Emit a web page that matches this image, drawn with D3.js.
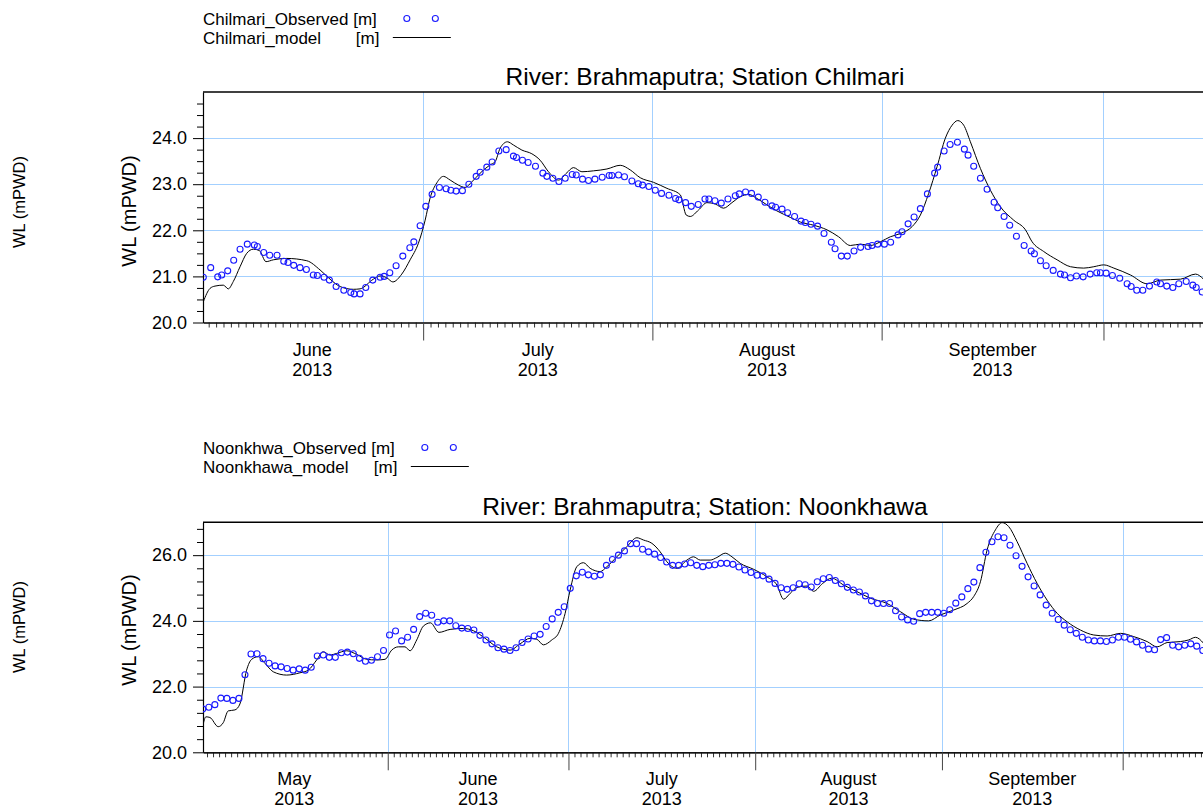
<!DOCTYPE html>
<html>
<head>
<meta charset="utf-8">
<script src="https://cdn.jsdelivr.net/npm/d3@7"></script>
<style>
  body { margin: 0; background: #fff; }
  svg { display: block; }
  text { font-family: "Liberation Sans", Arial, Helvetica, sans-serif; fill: #000; }
</style>
</head>
<body>
<svg id="chart" width="1203" height="809"></svg>
<script>
// ---------------- Chilmari: days since 2013-06-01 00:00 UTC ----------------
const chilObsDay = [0.27,1.27,2.22,2.76,3.57,4.38,5.24,6.22,7.17,7.58,8.44,9.25,10.24,11.15,11.73,12.50,13.35,14.21,15.15,15.69,
  16.60,17.32,18.23,19.27,20.21,20.66,21.47,22.24,23.19,24.18,24.72,25.49,26.34,27.25,28.20,28.74,29.59,30.36,31.21,32.20,
  33.11,33.74,34.46,35.31,36.18,37.17,37.71,38.61,39.33,40.24,41.23,42.21,42.62,43.43,44.20,45.19,46.19,46.73,47.54,48.36,
  49.21,50.16,50.70,51.55,52.36,53.23,54.21,55.16,55.53,56.42,57.23,58.23,59.09,59.67,60.53,61.39,62.24,63.24,64.13,64.59,
  65.49,66.26,67.20,68.11,68.65,69.46,70.32,71.22,72.21,72.75,73.60,74.41,75.32,76.23,77.17,77.66,78.53,79.29,80.23,81.10,
  81.68,82.45,83.34,84.21,85.20,85.70,86.55,87.36,88.27,89.16,90.16,90.70,91.46,92.37,93.22,94.22,94.76,95.58,96.39,97.24,
  98.19,99.17,99.58,100.45,101.26,102.25,103.19,103.69,104.45,105.36,106.26,107.21,107.70,108.56,109.32,110.23,111.27,112.22,112.66,113.48,
  114.25,115.20,116.18,116.73,117.54,118.35,119.25,120.20,121.09,121.59,122.36,123.21,124.20,125.20,125.74,126.50,127.32,128.22,129.21,129.71,
  130.56,131.38,132.19,133.19,134.08,134.54,135.35];
const chilObsWL = [20.98,21.19,20.99,21.03,21.12,21.35,21.59,21.70,21.68,21.65,21.52,21.46,21.46,21.33,21.30,21.24,21.19,21.15,21.03,21.02,
  20.98,20.92,20.78,20.70,20.65,20.62,20.62,20.76,20.92,20.98,21.00,21.08,21.23,21.44,21.62,21.75,22.10,22.52,22.78,22.93,
  22.90,22.87,22.85,22.86,23.00,23.17,23.26,23.37,23.48,23.72,23.75,23.61,23.58,23.52,23.47,23.39,23.24,23.17,23.13,23.06,
  23.13,23.21,23.20,23.11,23.08,23.11,23.15,23.19,23.19,23.20,23.16,23.07,23.01,22.98,22.95,22.87,22.80,22.76,22.69,22.66,
  22.60,22.52,22.56,22.68,22.68,22.64,22.59,22.68,22.75,22.79,22.83,22.80,22.72,22.61,22.53,22.50,22.46,22.38,22.30,22.20,
  22.17,22.13,22.09,21.93,21.74,21.60,21.44,21.44,21.55,21.63,21.65,21.67,21.70,21.70,21.74,21.90,21.97,22.14,22.29,22.47,
  22.79,23.24,23.37,23.72,23.86,23.91,23.76,23.63,23.39,23.13,22.89,22.61,22.49,22.30,22.11,21.87,21.67,21.55,21.49,21.34,
  21.23,21.13,21.05,21.03,20.97,21.01,20.99,21.05,21.08,21.08,21.07,21.02,20.96,20.84,20.78,20.70,20.70,20.79,20.88,20.84,
  20.79,20.76,20.84,20.89,20.81,20.76,20.66];
const chilModDay = [0.27,1.18,1.85,2.98,3.65,4.33,5.24,6.14,7.04,7.85,8.75,9.74,11.55,14.26,16.06,17.41,18.77,20.57,21.47,23.27,
  24.18,25.08,25.90,27.11,28.24,29.36,30.27,30.94,31.85,32.74,33.65,34.77,35.68,36.58,37.71,39.06,39.74,40.41,41.40,42.21,
  43.35,44.70,45.82,46.95,48.30,49.44,50.33,51.47,53.04,54.85,56.65,58.00,59.36,61.16,62.97,64.77,65.58,66.12,67.24,68.38,
  69.50,70.63,71.76,72.89,74.01,75.15,76.50,77.85,79.65,81.00,82.80,84.61,86.18,87.77,89.12,90.48,91.83,93.18,94.54,96.12,
  97.24,98.36,99.50,100.62,101.53,102.29,103.10,104.00,105.36,106.71,108.06,109.86,111.45,112.35,113.92,115.73,117.54,119.33,120.69,122.04,
  123.40,125.66,127.91,129.71,132.42,134.45,135.53];
const chilModWL = [20.45,20.74,20.79,20.81,20.73,20.89,21.21,21.50,21.59,21.56,21.32,21.36,21.39,21.34,21.14,20.94,20.78,20.72,20.73,20.94,
  21.01,20.97,20.88,21.05,21.36,21.72,22.22,22.70,23.03,23.17,23.09,22.98,22.93,23.05,23.24,23.42,23.49,23.78,23.92,23.85,
  23.74,23.66,23.52,23.27,23.09,23.25,23.36,23.27,23.29,23.33,23.41,23.31,23.14,23.04,22.91,22.77,22.33,22.30,22.44,22.60,
  22.57,22.48,22.60,22.73,22.78,22.69,22.55,22.42,22.28,22.18,22.11,22.01,21.86,21.67,21.70,21.67,21.75,21.86,21.93,22.08,
  22.33,22.80,23.38,24.00,24.28,24.38,24.28,23.92,23.34,22.87,22.51,22.22,22.01,21.75,21.54,21.36,21.21,21.18,21.21,21.25,
  21.18,21.03,20.84,20.92,20.94,21.05,20.94];

// ---------------- Noonkhawa: days since 2013-05-01 00:00 UTC ----------------
const noonObsDay = [0.3,1.3,2.3,3.3,4.3,5.3,6.3,7.3,8.3,9.3,10.3,11.3,12.3,13.3,14.3,15.3,16.3,17.3,18.3,19.3,
  20.3,21.3,22.3,23.3,24.3,25.3,26.3,27.3,28.3,29.3,30.3,31.3,32.3,33.3,34.3,35.3,36.3,37.3,38.3,39.3,
  40.3,41.3,42.3,43.3,44.3,45.3,46.3,47.3,48.3,49.3,50.3,51.3,52.3,53.3,54.3,55.3,56.3,57.3,58.3,59.3,
  60.3,61.3,62.3,63.3,64.3,65.3,66.3,67.3,68.3,69.3,70.3,71.3,72.3,73.3,74.3,75.3,76.3,77.3,78.3,79.3,
  80.3,81.3,82.3,83.3,84.3,85.3,86.3,87.3,88.3,89.3,90.3,91.3,92.3,93.3,94.3,95.3,96.3,97.3,98.3,99.3,
  100.3,101.3,102.3,103.3,104.3,105.3,106.3,107.3,108.3,109.3,110.3,111.3,112.3,113.3,114.3,115.3,116.3,117.3,118.3,119.3,
  120.3,121.3,122.3,123.3,124.3,125.3,126.3,127.3,128.3,129.3,130.3,131.3,132.3,133.3,134.3,135.3,136.3,137.3,138.3,139.3,
  140.3,141.3,142.3,143.3,144.3,145.3,146.3,147.3,148.3,149.3,150.3,151.3,152.3,153.3,154.3,155.3,156.3,157.3,158.3,159.3,
  160.3,161.3,162.3,163.3,164.3,165.3,166.3];
const noonObsWL = [21.32,21.37,21.45,21.65,21.64,21.58,21.64,22.36,22.99,23.00,22.85,22.71,22.63,22.60,22.55,22.50,22.54,22.50,22.59,22.93,
  22.96,22.89,22.89,23.03,23.05,23.00,22.86,22.77,22.80,22.91,23.10,23.57,23.69,23.39,23.50,23.74,24.13,24.23,24.17,23.96,
  24.00,24.00,23.85,23.78,23.77,23.72,23.56,23.42,23.30,23.18,23.14,23.10,23.18,23.34,23.45,23.54,23.59,23.83,24.06,24.26,
  24.43,24.99,25.37,25.48,25.40,25.36,25.40,25.69,25.87,26.00,26.13,26.35,26.35,26.18,26.10,26.03,25.93,25.79,25.69,25.69,
  25.73,25.77,25.69,25.65,25.69,25.71,25.75,25.75,25.72,25.64,25.55,25.47,25.39,25.37,25.27,25.14,25.01,24.96,25.01,25.13,
  25.10,25.03,25.19,25.28,25.32,25.23,25.13,25.02,24.94,24.88,24.76,24.61,24.53,24.53,24.53,24.31,24.12,24.03,23.99,24.22,
  24.26,24.26,24.26,24.23,24.34,24.54,24.73,24.98,25.18,25.62,26.09,26.41,26.56,26.53,26.30,25.98,25.66,25.34,25.06,24.79,
  24.48,24.23,24.04,23.87,23.73,23.62,23.50,23.42,23.39,23.39,23.37,23.42,23.50,23.50,23.44,23.36,23.26,23.14,23.12,23.43,
  23.49,23.26,23.21,23.26,23.30,23.23,23.10];
const noonModDay = [0.30,0.81,1.48,2.86,3.69,4.52,5.63,6.46,7.57,8.41,9.50,10.61,12.00,14.22,16.43,17.81,19.20,20.30,21.41,22.52,
  24.19,25.85,27.51,29.17,30.55,31.66,32.76,33.87,34.70,35.81,36.91,38.10,39.50,41.35,43.55,45.22,47.16,49.10,51.31,52.97,
  54.63,55.75,56.84,58.24,59.34,60.45,61.28,62.39,63.49,64.60,66.26,67.38,69.04,70.70,72.36,73.46,74.85,76.23,77.34,79.00,
  80.66,81.76,82.87,84.53,85.65,87.03,88.14,89.52,91.73,93.95,95.61,96.71,97.82,98.94,100.60,101.69,103.20,104.70,106.68,108.90,
  111.11,113.89,116.10,118.31,120.80,122.74,124.95,127.18,128.27,129.39,130.50,131.88,132.99,134.08,135.48,137.14,138.80,140.46,142.13,143.79,
  146.00,148.21,150.43,152.64,154.85,157.06,158.72,160.38,162.59,163.97,165.09,166.42];
const noonModWL = [20.80,21.08,21.06,20.78,20.90,21.26,21.29,21.47,22.50,22.83,22.91,22.71,22.45,22.35,22.42,22.50,22.81,23.06,22.96,23.01,
  23.09,22.98,22.83,22.81,22.83,23.11,23.21,23.21,23.09,23.42,23.84,23.94,23.65,23.74,23.77,23.70,23.47,23.21,23.11,23.30,
  23.47,23.44,23.27,23.42,23.62,24.23,24.94,25.65,25.77,25.60,25.50,25.65,25.95,26.26,26.53,26.46,26.36,26.10,25.80,25.60,
  25.85,25.95,25.85,25.85,25.93,26.06,25.95,25.75,25.57,25.34,25.09,24.66,24.84,25.02,25.06,24.90,25.14,25.30,25.09,24.89,
  24.69,24.53,24.28,24.05,24.00,24.18,24.33,24.53,24.74,25.19,26.16,26.77,26.99,26.87,26.41,25.75,25.14,24.63,24.23,23.97,
  23.72,23.57,23.54,23.62,23.52,23.37,23.21,23.34,23.37,23.42,23.50,23.32];

// ---------------- Labels ----------------
const monthLabels = { 4: "May", 5: "June", 6: "July", 7: "August", 8: "September", 9: "October" };
const yearLabel = "2013";
const chilYMajor = [20, 21, 22, 23, 24];
const noonYMajor = [20, 22, 24, 26];
const yTitle = "WL (mPWD)";

const GRID = "#a3d0ff";
const OBS = "#1a1aff";
const fmt = d3.format(".1f");
const svg = d3.select("#chart");
const defs = svg.append("defs");

function drawPanel(p, idx) {
  const g = svg.append("g");
  const x = d3.scaleUtc().domain(p.xDomain).range([p.left, p.right]);
  const y = d3.scaleLinear().domain(p.yDomain).range([p.bottom, p.top]);

  defs.append("clipPath").attr("id", "clip" + idx)
    .append("rect").attr("x", p.left).attr("y", p.top)
    .attr("width", p.right - p.left).attr("height", p.bottom - p.top);

  const monthStarts = d3.utcMonth.range(d3.utcMonth.ceil(p.xDomain[0]), p.xDomain[1]);

  // grid
  const grid = g.append("g").attr("stroke", GRID).attr("stroke-width", 1);
  grid.selectAll(".gv").data(monthStarts).join("line")
    .attr("x1", d => Math.round(x(d)) + 0.5).attr("x2", d => Math.round(x(d)) + 0.5)
    .attr("y1", p.top).attr("y2", p.bottom);
  grid.selectAll(".gh").data(p.yMajor.filter(v => v > p.yDomain[0])).join("line")
    .attr("x1", p.left).attr("x2", p.right)
    .attr("y1", d => Math.round(y(d)) + 0.5).attr("y2", d => Math.round(y(d)) + 0.5);

  // y axis: minor then major ticks
  const minor = d3.range(p.yDomain[0], p.yDomain[1] - 1e-9, p.yMinorStep)
    .map(v => +v.toFixed(3))
    .filter(v => !p.yMajor.some(m => Math.abs(m - v) < 1e-6));
  g.append("g").attr("transform", `translate(${p.left},0)`)
    .call(d3.axisLeft(y).tickValues(minor).tickSize(6).tickSizeOuter(0).tickFormat(""))
    .call(a => a.select(".domain").remove());
  const ya = g.append("g").attr("transform", `translate(${p.left},0)`)
    .call(d3.axisLeft(y).tickValues(p.yMajor).tickSize(10).tickPadding(6).tickSizeOuter(0).tickFormat(fmt));
  ya.attr("font-family", null).attr("font-size", null);
  ya.selectAll("text").style("font-size", "18px");
  ya.select(".domain").attr("stroke-width", 1.2);

  // x axis: daily minor ticks, month major ticks
  const days = d3.utcDay.range(d3.utcDay.ceil(p.xDomain[0]), p.xDomain[1])
    .filter(d => d.getUTCDate() !== 1);
  g.append("g").attr("transform", `translate(0,${p.bottom})`)
    .call(d3.axisBottom(x).tickValues(days).tickSize(5).tickSizeOuter(0).tickFormat(""))
    .call(a => a.selectAll(".tick line").attr("stroke", "#333"));
  const xa = g.append("g").attr("transform", `translate(0,${p.bottom})`)
    .call(d3.axisBottom(x).tickValues(monthStarts).tickSize(18).tickSizeOuter(0).tickFormat(""));
  xa.selectAll(".tick line").attr("stroke", "#444");
  xa.select(".domain").attr("stroke-width", 1.2);

  // month labels at month midpoints
  const allMonths = d3.utcMonth.range(d3.utcMonth.floor(p.xDomain[0]), p.xDomain[1]);
  const mids = allMonths.map(m => ({ m, mid: new Date((+m + +d3.utcMonth.offset(m, 1)) / 2) }))
    .filter(o => x(o.mid) > p.left && x(o.mid) < 1203 - 20);
  const lab = g.append("g").attr("text-anchor", "middle").style("font-size", "18px");
  mids.forEach(o => {
    const t = lab.append("text").attr("x", x(o.mid)).attr("y", p.bottom + 33);
    t.append("tspan").attr("x", x(o.mid)).text(monthLabels[o.m.getUTCMonth()]);
    t.append("tspan").attr("x", x(o.mid)).attr("dy", 20).text(yearLabel);
  });

  // top frame
  g.append("line").attr("x1", p.left).attr("x2", p.right)
    .attr("y1", p.top).attr("y2", p.top).attr("stroke", "#000").attr("stroke-width", 1.5);

  // model line and observed points
  const base = p.xDomainBase;
  const toDate = d => new Date(+base + d * 864e5);
  const plot = g.append("g").attr("clip-path", `url(#clip${idx})`);
  const model = p.modDay.map((d, i) => [toDate(d), p.modWL[i]]);
  plot.append("path").datum(model)
    .attr("fill", "none").attr("stroke", "#000").attr("stroke-width", 1)
    .attr("d", d3.line().x(d => x(d[0])).y(d => y(d[1])).curve(d3.curveMonotoneX));
  const obs = p.obsDay.map((d, i) => [toDate(d), p.obsWL[i]]);
  plot.selectAll("circle").data(obs).join("circle")
    .attr("cx", d => x(d[0])).attr("cy", d => y(d[1])).attr("r", 3)
    .attr("fill", "none").attr("stroke", OBS).attr("stroke-width", 1.1);

  // title
  g.append("text").attr("x", (p.left + p.right) / 2).attr("y", p.top - 7)
    .attr("text-anchor", "middle").style("font-size", "24.5px").text(p.title);

  // y titles
  g.append("text").attr("transform", `translate(136,${p.yTitleY}) rotate(-90)`)
    .attr("text-anchor", "middle").style("font-size", "20px").text(yTitle);
  g.append("text").attr("transform", `translate(25,${p.farTitleY}) rotate(-90)`)
    .attr("text-anchor", "middle").style("font-size", "16.5px").text(yTitle);

  // legend
  const lg = g.append("g").style("font-size", "17px");
  const l1 = lg.append("text").attr("x", p.left).attr("y", p.legendY).text(p.obsLabel);
  const endX = p.left + l1.node().getComputedTextLength();
  const unit = p.obsLabel.slice(p.obsLabel.lastIndexOf("["));
  lg.append("text").attr("x", p.left).attr("y", p.legendY + 19).text(p.modLabel);
  lg.append("text").attr("x", endX - 21).attr("y", p.legendY + 19).text(unit);
  [endX + 30, endX + 58.5].forEach(cx => lg.append("circle")
    .attr("cx", cx).attr("cy", p.legendY - 6.5).attr("r", 3)
    .attr("fill", "none").attr("stroke", OBS).attr("stroke-width", 1.1));
  lg.append("line").attr("x1", endX + 16).attr("x2", endX + 74)
    .attr("y1", p.legendY + 12.5).attr("y2", p.legendY + 12.5)
    .attr("stroke", "#000").attr("stroke-width", 1);
}

const panels = [
  {
    title: "River: Brahmaputra; Station Chilmari",
    obsLabel: "Chilmari_Observed [m]", modLabel: "Chilmari_model",
    xDomainBase: new Date(Date.UTC(2013, 5, 1)),
    xDomain: [new Date(Date.UTC(2013, 5, 1, 5, 30)), new Date(Date.UTC(2013, 9, 15))],
    yDomain: [20, 25], yMajor: chilYMajor, yMinorStep: 0.25,
    left: 203, right: 1207, top: 92, bottom: 322.5,
    legendY: 25, yTitleY: 211, farTitleY: 202,
    obsDay: chilObsDay, obsWL: chilObsWL, modDay: chilModDay, modWL: chilModWL
  },
  {
    title: "River: Brahmaputra; Station: Noonkhawa",
    obsLabel: "Noonkhwa_Observed [m]", modLabel: "Noonkhawa_model",
    xDomainBase: new Date(Date.UTC(2013, 4, 1)),
    xDomain: [new Date(Date.UTC(2013, 4, 1, 8)), new Date(Date.UTC(2013, 9, 15))],
    yDomain: [20, 27], yMajor: noonYMajor, yMinorStep: 0.4,
    left: 203, right: 1207, top: 522.3, bottom: 752.3,
    legendY: 454, yTitleY: 630, farTitleY: 627,
    obsDay: noonObsDay, obsWL: noonObsWL, modDay: noonModDay, modWL: noonModWL
  }
];
panels.forEach(drawPanel);
</script>
</body>
</html>
